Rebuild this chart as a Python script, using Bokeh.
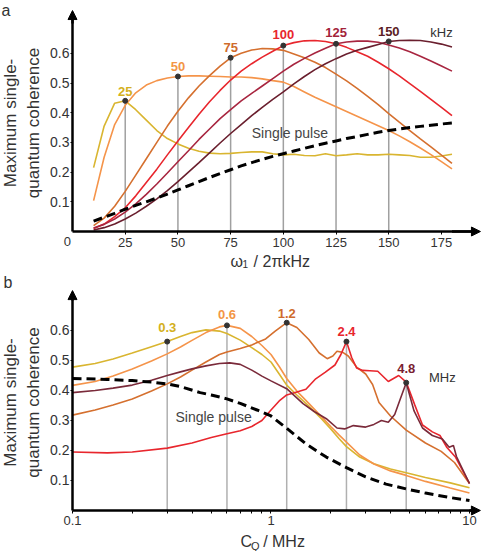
from bokeh.plotting import figure
from bokeh.layouts import column
from bokeh.models import Range1d, Label, Arrow, NormalHead, FixedTicker
from bokeh.embed import file_html
from bokeh.resources import INLINE

FONT = "Liberation Sans"

# ---------------- panel a: coherence vs. nutation frequency ----------------
rf_khz = [10, 15, 20, 25, 30, 35, 40, 45, 50, 55, 60, 65, 70, 75, 80, 85, 90,
          95, 100, 105, 110, 115, 120, 125, 130, 135, 140, 145, 150, 155, 160,
          165, 170, 175, 180]

mqc_a_25 = [0.215, 0.355, 0.432, 0.44, 0.41, 0.375, 0.34, 0.313, 0.295, 0.28,
            0.27, 0.264, 0.262, 0.263, 0.266, 0.268, 0.268, 0.262, 0.258, 0.26,
            0.256, 0.255, 0.262, 0.255, 0.258, 0.262, 0.258, 0.258, 0.26, 0.258,
            0.256, 0.25, 0.25, 0.254, 0.26]
mqc_a_50 = [0.104, 0.25, 0.36, 0.425, 0.467, 0.493, 0.508, 0.517, 0.522, 0.524,
            0.524, 0.523, 0.522, 0.52, 0.52, 0.518, 0.514, 0.508, 0.503, 0.488,
            0.47, 0.452, 0.436, 0.42, 0.404, 0.388, 0.372, 0.356, 0.34, 0.322,
            0.302, 0.281, 0.259, 0.235, 0.211]
mqc_a_75 = [0.02, 0.045, 0.085, 0.135, 0.19, 0.245, 0.30, 0.355, 0.405, 0.45,
            0.49, 0.525, 0.557, 0.585, 0.60, 0.611, 0.616, 0.615, 0.61, 0.598,
            0.585, 0.57, 0.552, 0.53, 0.507, 0.482, 0.455, 0.427, 0.397, 0.368,
            0.34, 0.312, 0.285, 0.257, 0.229]
mqc_a_100 = [0.01, 0.025, 0.05, 0.08, 0.12, 0.165, 0.21, 0.258, 0.305, 0.35,
             0.395, 0.437, 0.475, 0.51, 0.54, 0.565, 0.587, 0.607, 0.626, 0.636,
             0.642, 0.643, 0.64, 0.632, 0.62, 0.605, 0.59, 0.57, 0.548, 0.524,
             0.498, 0.472, 0.445, 0.418, 0.39]
mqc_a_125 = [0.012, 0.024, 0.042, 0.065, 0.093, 0.125, 0.16, 0.197, 0.235,
             0.272, 0.31, 0.345, 0.38, 0.41, 0.44, 0.465, 0.49, 0.515, 0.54,
             0.563, 0.583, 0.601, 0.617, 0.632, 0.638, 0.641, 0.641, 0.637,
             0.628, 0.618, 0.605, 0.59, 0.574, 0.557, 0.54]
mqc_a_150 = [0.005, 0.013, 0.025, 0.042, 0.062, 0.085, 0.11, 0.138, 0.168, 0.2,
             0.232, 0.265, 0.298, 0.33, 0.36, 0.39, 0.418, 0.445, 0.47, 0.497,
             0.522, 0.545, 0.565, 0.582, 0.598, 0.61, 0.62, 0.63, 0.64, 0.643,
             0.644, 0.643, 0.638, 0.631, 0.621]
single_pulse_a = [0.035, 0.048, 0.061, 0.075, 0.088, 0.1, 0.113, 0.126, 0.14,
                  0.154, 0.168, 0.182, 0.195, 0.208, 0.221, 0.232, 0.243, 0.253,
                  0.262, 0.271, 0.28, 0.289, 0.297, 0.305, 0.313, 0.32, 0.327,
                  0.334, 0.34, 0.345, 0.35, 0.354, 0.358, 0.362, 0.365]

a_names = ["25", "50", "75", "100", "125", "150"]
a_series = [mqc_a_25, mqc_a_50, mqc_a_75, mqc_a_100, mqc_a_125, mqc_a_150]
a_peak_y = [0.44, 0.522, 0.585, 0.626, 0.632, 0.64]
a_label_y = [0.472, 0.557, 0.62, 0.665, 0.671, 0.673]
a_line_colors = ["#d9b530", "#f5944a", "#d5702f", "#e8262d", "#a82640", "#6a1f2e"]
a_text_colors = ["#d4b020", "#f39645", "#cf6b2c", "#e8262d", "#a3233a", "#5c1d26"]
a_ticks = [25, 50, 75, 100, 125, 150, 175]

# ---------------- panel b: coherence vs. quadrupolar coupling ----------------
cq_25 = [0.1, 0.13, 0.16, 0.2, 0.25, 0.3, 0.35, 0.4, 0.47, 0.55, 0.6, 0.7, 0.8,
         0.9, 1.0, 1.1, 1.2, 1.35, 1.55, 1.8, 2.0, 2.2, 2.4, 2.8, 3.3, 4.0, 4.8,
         6.0, 8.0, 10.0]
mqc_b_03 = [0.478, 0.49, 0.505, 0.525, 0.546, 0.563, 0.58, 0.593, 0.602, 0.598,
            0.59, 0.568, 0.543, 0.52, 0.495, 0.455, 0.418, 0.385, 0.348, 0.305,
            0.272, 0.24, 0.213, 0.178, 0.156, 0.138, 0.126, 0.11, 0.092, 0.076]
mqc_b_06 = [0.417, 0.43, 0.448, 0.472, 0.498, 0.522, 0.545, 0.567, 0.593, 0.612,
            0.617, 0.607, 0.58, 0.55, 0.52, 0.48, 0.44, 0.398, 0.357, 0.312,
            0.28, 0.252, 0.228, 0.185, 0.155, 0.132, 0.117, 0.097, 0.075, 0.058]

cq_12 = [0.1, 0.13, 0.16, 0.2, 0.25, 0.3, 0.35, 0.4, 0.47, 0.55, 0.6, 0.7, 0.8,
         0.94, 1.05, 1.2, 1.35, 1.55, 1.75, 1.92, 2.05, 2.15, 2.3, 2.45, 2.7, 3.0,
         3.25, 3.5, 4.0, 4.8, 6.0, 7.2, 8.4, 10.0]
mqc_b_12 = [0.318, 0.335, 0.352, 0.372, 0.398, 0.422, 0.445, 0.468, 0.495, 0.52,
            0.528, 0.54, 0.552, 0.572, 0.598, 0.626, 0.61, 0.57, 0.525, 0.506,
            0.515, 0.531, 0.527, 0.515, 0.478, 0.455, 0.42, 0.36, 0.315, 0.268,
            0.225, 0.197, 0.16, 0.09]

cq_24 = [0.1, 0.15, 0.2, 0.3, 0.4, 0.5, 0.6, 0.7, 0.8, 0.9, 1.0, 1.1, 1.2, 1.35,
         1.5, 1.68, 1.88, 2.1, 2.25, 2.4, 2.55, 2.7, 2.9, 3.15, 3.45, 3.9, 4.4,
         4.8, 5.3, 5.8, 6.5, 7.1, 7.7, 8.5, 10.0]
mqc_b_24 = [0.195, 0.192, 0.195, 0.208, 0.225, 0.243, 0.256, 0.266, 0.28, 0.3,
            0.335, 0.365, 0.385, 0.395, 0.404, 0.439, 0.461, 0.485, 0.52, 0.563,
            0.51, 0.475, 0.467, 0.466, 0.464, 0.43, 0.45, 0.428, 0.352, 0.285,
            0.262, 0.25, 0.21, 0.178, 0.09]

cq_48 = [0.1, 0.13, 0.16, 0.2, 0.25, 0.3, 0.35, 0.4, 0.47, 0.55, 0.62, 0.7, 0.8,
         0.9, 1.0, 1.2, 1.45, 1.65, 1.9, 2.15, 2.35, 2.6, 3.0, 3.3, 3.6, 3.9, 4.2,
         4.5, 4.8, 5.25, 5.8, 6.5, 7.3, 7.9, 8.3, 8.6, 10.0]
mqc_b_48 = [0.393, 0.4, 0.408, 0.418, 0.434, 0.45, 0.462, 0.472, 0.482, 0.49,
            0.492, 0.487, 0.468, 0.448, 0.432, 0.406, 0.356, 0.33, 0.306, 0.275,
            0.272, 0.283, 0.278, 0.287, 0.30, 0.294, 0.32, 0.375, 0.426, 0.333,
            0.275, 0.25, 0.238, 0.211, 0.217, 0.18, 0.09]

cq_sp = [0.1, 0.15, 0.2, 0.25, 0.3, 0.35, 0.44, 0.5, 0.6, 0.7, 0.85, 1.0, 1.2,
         1.5, 1.9, 2.4, 3.0, 3.8, 4.8, 6.0, 8.0, 10.0]
single_pulse_b = [0.44, 0.437, 0.433, 0.428, 0.422, 0.413, 0.393, 0.385, 0.372,
                  0.357, 0.335, 0.315, 0.274, 0.222, 0.178, 0.143, 0.112, 0.088,
                  0.072, 0.058, 0.043, 0.033]

b_names = ["0.3", "0.6", "1.2", "2.4", "4.8"]
b_x = [cq_25, cq_25, cq_12, cq_24, cq_48]
b_series = [mqc_b_03, mqc_b_06, mqc_b_12, mqc_b_24, mqc_b_48]
b_peak_y = [0.563, 0.617, 0.626, 0.563, 0.426]
b_label_y = [0.609, 0.652, 0.656, 0.597, 0.472]
b_line_colors = ["#d9b530", "#f5944a", "#d5702f", "#e8262d", "#7a2a3a"]
b_text_colors = ["#d4b020", "#f39645", "#cf6b2c", "#e8262d", "#7a2030"]
b_ticks = [0.1, 1, 10]
b_minor = [0.2, 0.3, 0.4, 0.5, 0.6, 0.7, 0.8, 0.9, 2, 3, 4, 5, 6, 7, 8, 9]

y_ticks = [0.1, 0.2, 0.3, 0.4, 0.5, 0.6]


def style(p, x0, y0, xmax, ymax):
    """Axes drawn through the origin, with arrowheads at their far ends."""
    p.grid.visible = False
    p.outline_line_color = None
    p.min_border = 0
    p.xaxis.fixed_location = y0
    p.yaxis.fixed_location = x0
    p.xaxis.bounds = (x0, xmax)
    p.yaxis.bounds = (y0, ymax)
    for ax in (p.xaxis[0], p.yaxis[0]):
        ax.axis_line_width = 2.5
        ax.axis_line_color = "black"
        ax.major_tick_in = 0
        ax.major_tick_line_color = "black"
        ax.minor_tick_in = 0
        ax.minor_tick_out = 0
        ax.major_label_text_font = FONT
        ax.major_label_text_color = "#333333"
        ax.axis_label_text_font = FONT
        ax.axis_label_text_font_size = "17px"
        ax.axis_label_text_font_style = "normal"
        ax.axis_label_text_color = "#333333"
    p.xaxis.major_tick_out = 3
    p.xaxis.major_label_standoff = 3
    p.xaxis.major_label_text_font_size = "13px"
    p.yaxis.major_tick_out = 2
    p.yaxis.major_label_standoff = 1
    p.yaxis.major_label_text_font_size = "14px"
    p.yaxis.ticker = FixedTicker(ticks=y_ticks, minor_ticks=[])
    p.yaxis.axis_label = "Maximum single-\nquantum coherence"
    p.yaxis.axis_label_standoff = 4


def text(p, x, y, s, color="#333333", size="13px", align="center",
         style_="normal"):
    p.add_layout(Label(x=x, y=y, text=s, text_color=color, text_font=FONT,
                       text_font_size=size, text_align=align,
                       text_baseline="middle", text_font_style=style_))


def arrows(p, x0, y0, xtail, ytail, xtip, ytip):
    head = dict(size=9, fill_color="black", line_color="black", line_width=1)
    p.add_layout(Arrow(end=NormalHead(**head), x_start=x0, y_start=ytail,
                       x_end=x0, y_end=ytip, line_width=2.5))
    p.add_layout(Arrow(end=NormalHead(**head), x_start=xtail, y_start=y0,
                       x_end=xtip, y_end=y0, line_width=2.5))


# ---- figure a ----
pa = figure(width=481, height=270, x_range=Range1d(-34.16, 194.0),
            y_range=Range1d(-0.1313, 0.7778), output_backend="svg",
            toolbar_location=None)
style(pa, 0, 0, 190, 0.73)
pa.xaxis.ticker = FixedTicker(ticks=a_ticks, minor_ticks=[])

a_peak_x = [float(n) for n in a_names]
pa.segment(x0=a_peak_x, y0=[0] * len(a_peak_x), x1=a_peak_x, y1=a_peak_y,
           line_color="#a0a0a0", line_width=1.5)
for ys, c in zip(a_series, a_line_colors):
    pa.line(rf_khz, ys, line_color=c, line_width=1.6)
pa.line(rf_khz, single_pulse_a, line_color="black", line_width=3,
        line_dash="9 5")
pa.scatter(a_peak_x, a_peak_y, size=5, color="#333333")
for n, x, y, c in zip(a_names, a_peak_x, a_label_y, a_text_colors):
    text(pa, x, y, n, color=c, size="13px", style_="bold")
text(pa, 175, 0.669, "kHz", size="13px")
text(pa, 85, 0.332, "Single pulse", size="14px", align="left",
     color="#444444")
text(pa, -2.4, -0.034, "0", size="13px")
text(pa, 74.9, -0.101, "ω", size="16px", align="left")
text(pa, 80.6, -0.109, "1", size="10px", align="left")
text(pa, 85.9, -0.101, "/ 2πkHz", size="16px", align="left")
text(pa, -33.7, 0.744, "a", size="16px", align="left")
arrows(pa, 0, 0, 180, 0.70, 193.5, 0.744)

# ---- figure b ----
pb = figure(width=481, height=281, x_axis_type="log",
            x_range=Range1d(0.04337, 11.497), y_range=Range1d(-0.1367, 0.8),
            output_backend="svg", toolbar_location=None)
style(pb, 0.1, 0, 11.0, 0.72)
pb.xaxis.ticker = FixedTicker(ticks=b_ticks, minor_ticks=b_minor)
pb.xaxis.major_label_overrides = {0.1: "0.1", 1: "1", 10: "10"}
pb.xaxis.minor_tick_out = 3
pb.xaxis.minor_tick_line_color = "black"

b_peak_x = [float(n) for n in b_names]
pb.segment(x0=b_peak_x, y0=[0] * len(b_peak_x), x1=b_peak_x, y1=b_peak_y,
           line_color="#b0b0b0", line_width=1.5)
for xs, ys, c in zip(b_x, b_series, b_line_colors):
    pb.line(xs, ys, line_color=c, line_width=1.6)
pb.line(cq_sp, single_pulse_b, line_color="black", line_width=3,
        line_dash="9 5")
pb.scatter(b_peak_x, b_peak_y, size=5, color="#333333")
for n, x, y, c in zip(b_names, b_peak_x, b_label_y, b_text_colors):
    text(pb, x, y, n, color=c, size="13px", style_="bold")
text(pb, 7.3, 0.442, "MHz", size="13px")
text(pb, 0.33, 0.311, "Single pulse", size="14px", align="left",
     color="#444444")
text(pb, 0.702, -0.103, "C", size="16px", align="left")
text(pb, 0.794, -0.119, "Q", size="11px", align="left")
text(pb, 0.913, -0.103, "/ MHz", size="16px", align="left")
text(pb, 0.0449, 0.76, "b", size="16px", align="left")
arrows(pb, 0.1, 0, 10.0, 0.70, 11.35, 0.733)

layout = column(pa, pb)
open("out.html", "w").write(file_html(layout, INLINE))
